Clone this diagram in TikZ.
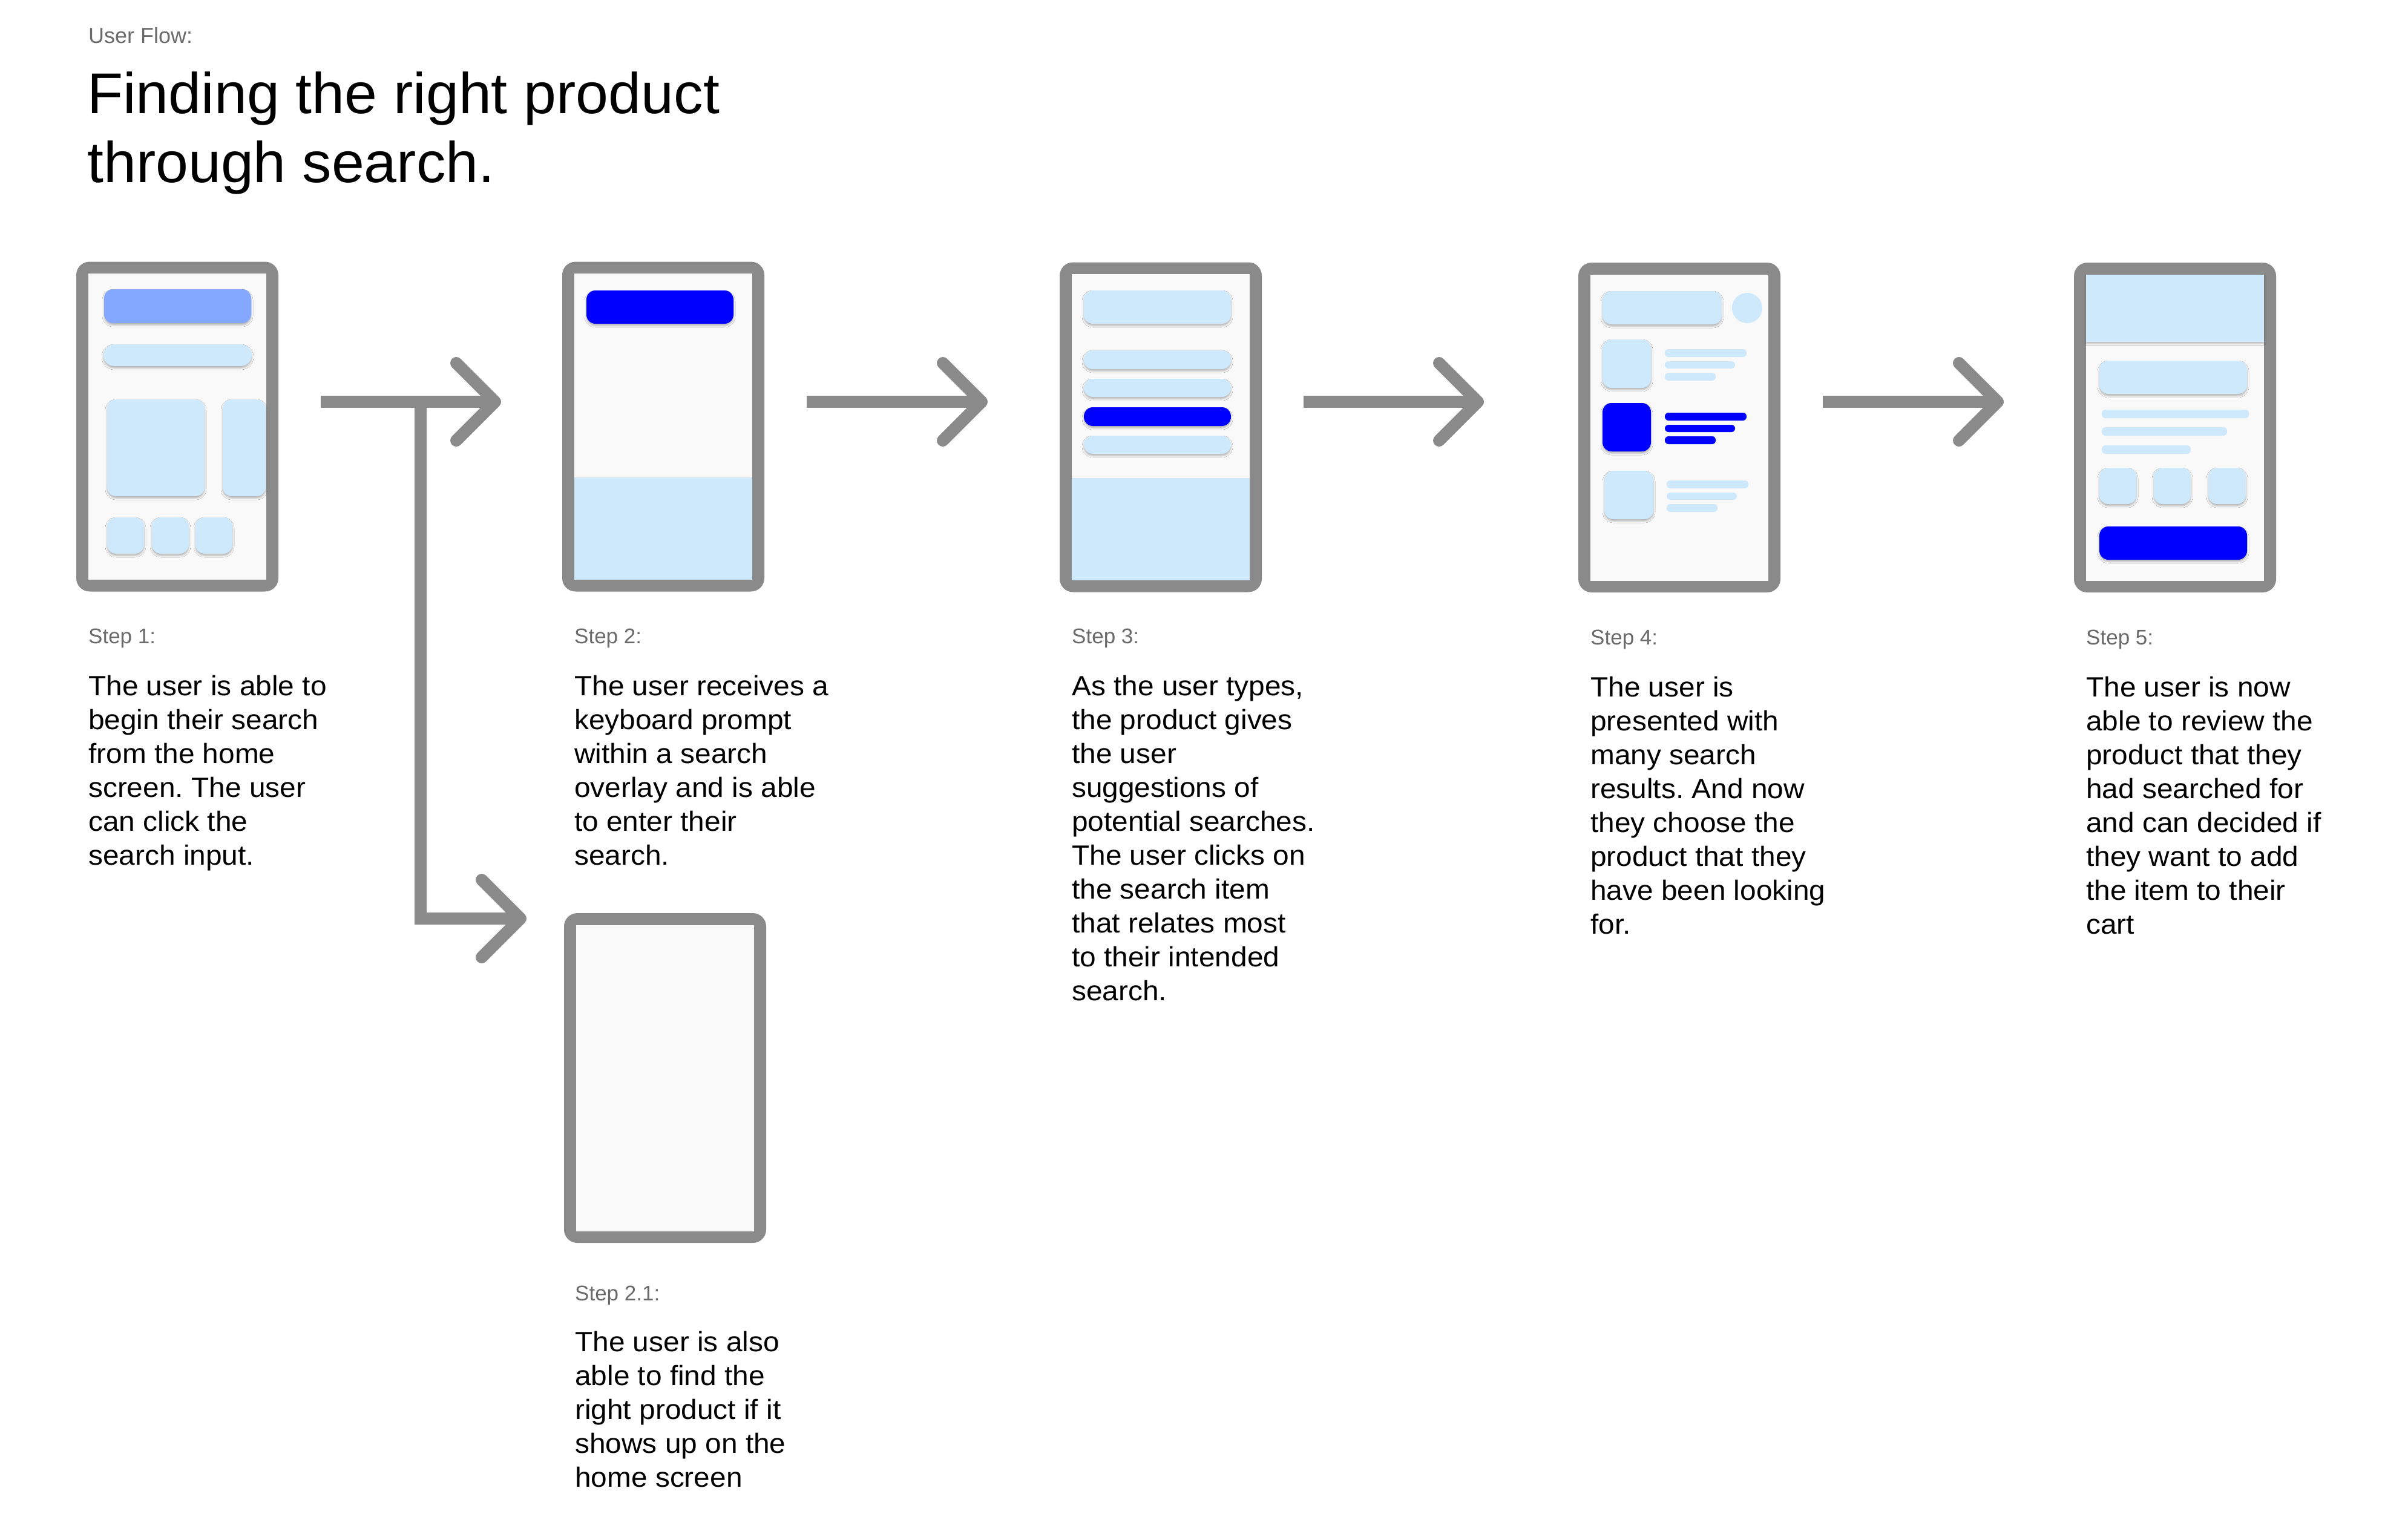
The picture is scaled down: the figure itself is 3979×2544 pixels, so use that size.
\documentclass[tikz,border=0pt]{standalone}
\usepackage{fontspec}
\setmainfont{Liberation Sans}
\newfontfamily\bodyfont{Liberation Sans}[FakeStretch=1.04]
\newfontfamily\titlefont{Liberation Sans}[FakeStretch=1.02]
\usetikzlibrary{calc,shadows.blur}
\definecolor{frame}{HTML}{8A8A8A}
\definecolor{screen}{HTML}{F9F9F9}
\definecolor{lblue}{HTML}{CFE9FC}
\definecolor{mblue}{HTML}{84A8FF}
\definecolor{bblue}{HTML}{0000FF}
\definecolor{labelgray}{HTML}{6A6A6A}
\tikzset{
  phone/.style={fill=frame, rounded corners=22pt, minimum width=334pt, minimum height=545pt, inner sep=0pt},
  scr/.style={fill=screen, minimum width=294pt, minimum height=506pt, inner sep=0pt},
  shad/.style={blur shadow={shadow xshift=0pt, shadow yshift=-3pt, shadow blur radius=3pt, shadow opacity=28}},
  card/.style={fill=lblue, rounded corners=15pt, shad},
  mcard/.style={fill=mblue, rounded corners=15pt, shad},
  bcard/.style={fill=bblue, rounded corners=15pt, shad},
  tline/.style={fill=lblue, rounded corners=6pt},
  btline/.style={fill=bblue, rounded corners=6pt},
  flow/.style={draw=frame, line width=20pt},
  chev/.style={draw=frame, line width=20pt, line cap=round, line join=round},
  steplabel/.style={anchor=base west, inner sep=0pt, text=labelgray, font=\fontsize{35pt}{42pt}\selectfont},
  stepbody/.style={anchor=base west, inner sep=0pt, text=black},
  titletext/.style={anchor=base west, inner sep=0pt, font=\titlefont\fontsize{95pt}{114pt}\selectfont},
}
\newcommand{\bodytext}[1]{\parbox[t]{640pt}{\bodyfont\fontsize{46pt}{56pt}\selectfont\frenchspacing\raggedright #1}}
\newcommand{\chevronat}[1]{\draw[chev] ($(#1)+(-64,-64)$) -- (#1) -- ($(#1)+(-64,64)$);}
\begin{document}
\begin{tikzpicture}[x=1pt,y=-1pt]
\useasboundingbox (0,0) rectangle (3979,2544);
\fill[white] (0,0) rectangle (3979,2544);

% Title
\node[anchor=base west, inner sep=0pt, text=labelgray, font=\fontsize{36pt}{43pt}\selectfont] (uf) at (146,71) {User Flow:};
\node[titletext] (t1) at (144,187) {Finding the right product};
\node[titletext] (t2) at (144,301) {through search.};

% Phones
\node[phone] (p1) at (293,705) {};
\node[scr] (s1) at (p1.center) {};
\node[phone] (p2) at (1096,705) {};
\node[scr] (s2) at (p2.center) {};
\node[phone] (p3) at (1918,706) {};
\node[scr] (s3) at (p3.center) {};
\node[phone] (p4) at (2775,706.5) {};
\node[scr] (s4) at (p4.center) {};
\node[phone] (p5) at (3594,706.5) {};
\node[scr] (s5) at (p5.center) {};
\node[phone] (p21) at (1099,1781.5) {};
\node[scr] (s21) at (p21.center) {};

% Phone 1 content
\fill[mcard] (172,478) rectangle (415,534);
\fill[card, rounded corners=18pt] (171,569) rectangle (416,605);
\fill[card] (177,660) rectangle (338,820);
\fill[card] (368,660) rectangle (439,820);
\fill[card] (177,855) rectangle (238,915);
\fill[card] (251,855) rectangle (312,915);
\fill[card] (323,855) rectangle (384,915);

% Phone 2 content
\fill[bcard] (969,480) rectangle (1212,535);
\fill[lblue] (949,789) rectangle (1243,958);

% Phone 3 content
\fill[card] (1791,480) rectangle (2034,535);
\fill[card] (1791,579) rectangle (2034,610);
\fill[card] (1791,626) rectangle (2034,656);
\fill[bcard] (1791,673) rectangle (2034,704);
\fill[card] (1791,720) rectangle (2034,750);
\fill[lblue] (1771,790) rectangle (2065,959);

% Phone 4 content
\fill[card] (2648,481) rectangle (2845,536);
\fill[lblue] (2887,509) circle[radius=25];
\fill[card] (2648,561) rectangle (2728,641);
\fill[tline] (2751,577) rectangle (2886,590);
\fill[tline] (2751,597) rectangle (2867,609);
\fill[tline] (2751,616) rectangle (2835,629);
\fill[bcard] (2648,666) rectangle (2728,746);
\fill[btline] (2751,682) rectangle (2886,695);
\fill[btline] (2751,702) rectangle (2867,714);
\fill[btline] (2751,721) rectangle (2835,734);
\fill[card] (2651,778) rectangle (2732,858);
\fill[tline] (2754,794) rectangle (2889,807);
\fill[tline] (2754,814) rectangle (2870,826);
\fill[tline] (2754,833) rectangle (2838,846);

% Phone 5 content
\fill[lblue, shad] (3447,454) rectangle (3741,564.5);
\fill[card] (3469,596) rectangle (3713,651);
\fill[tline] (3473,677) rectangle (3716,691);
\fill[tline] (3473,706) rectangle (3680,720);
\fill[tline] (3473,736) rectangle (3620,750);
\fill[card] (3469,773) rectangle (3530,833);
\fill[card] (3559,773) rectangle (3620,833);
\fill[card] (3649,773) rectangle (3711,833);
\fill[bcard] (3469,870) rectangle (3713,925);

% Arrows
\coordinate (a1s) at (530,664);
\coordinate (a1e) at (818,664);
\coordinate (a2s) at (1333,664);
\coordinate (a2e) at (1622,664);
\coordinate (a3s) at (2154,664);
\coordinate (a3e) at (2442,664);
\coordinate (a4s) at (3012,664);
\coordinate (a4e) at (3301,664);
\coordinate (b0) at (695,664);
\coordinate (b1) at (695,1518);
\coordinate (b2) at (860,1518);
\draw[flow] (a1s) -- (a1e);
\chevronat{a1e}
\draw[flow] (a2s) -- (a2e);
\chevronat{a2e}
\draw[flow] (a3s) -- (a3e);
\chevronat{a3e}
\draw[flow] (a4s) -- (a4e);
\chevronat{a4e}
\draw[flow, line join=miter] (b0) -- (b1) -- (b2);
\chevronat{b2}

% Step texts
\node[steplabel] (l1) at (146,1063) {Step 1:};
\node[stepbody] (d1) at (146,1149) {\bodytext{The user is able to\\begin their search\\from the home\\screen. The user\\can click the\\search input.}};
\node[steplabel] (l2) at (949,1063) {Step 2:};
\node[stepbody] (d2) at (949,1149) {\bodytext{The user receives a\\keyboard prompt\\within a search\\overlay and is able\\to enter their\\search.}};
\node[steplabel] (l3) at (1771,1063) {Step 3:};
\node[stepbody] (d3) at (1771,1149) {\bodytext{As the user types,\\the product gives\\the user\\suggestions of\\potential searches.\\The user clicks on\\the search item\\that relates most\\to their intended\\search.}};
\node[steplabel] (l4) at (2628,1065) {Step 4:};
\node[stepbody] (d4) at (2628,1151) {\bodytext{The user is\\presented with\\many search\\results. And now\\they choose the\\product that they\\have been looking\\for.}};
\node[steplabel] (l5) at (3447,1065) {Step 5:};
\node[stepbody] (d5) at (3447,1151) {\bodytext{The user is now\\able to review the\\product that they\\had searched for\\and can decided if\\they want to add\\the item to their\\cart}};
\node[steplabel] (l21) at (950,2149) {Step 2.1:};
\node[stepbody] (d21) at (950,2233) {\bodytext{The user is also\\able to find the\\right product if it\\shows up on the\\home screen}};
\end{tikzpicture}
\end{document}
